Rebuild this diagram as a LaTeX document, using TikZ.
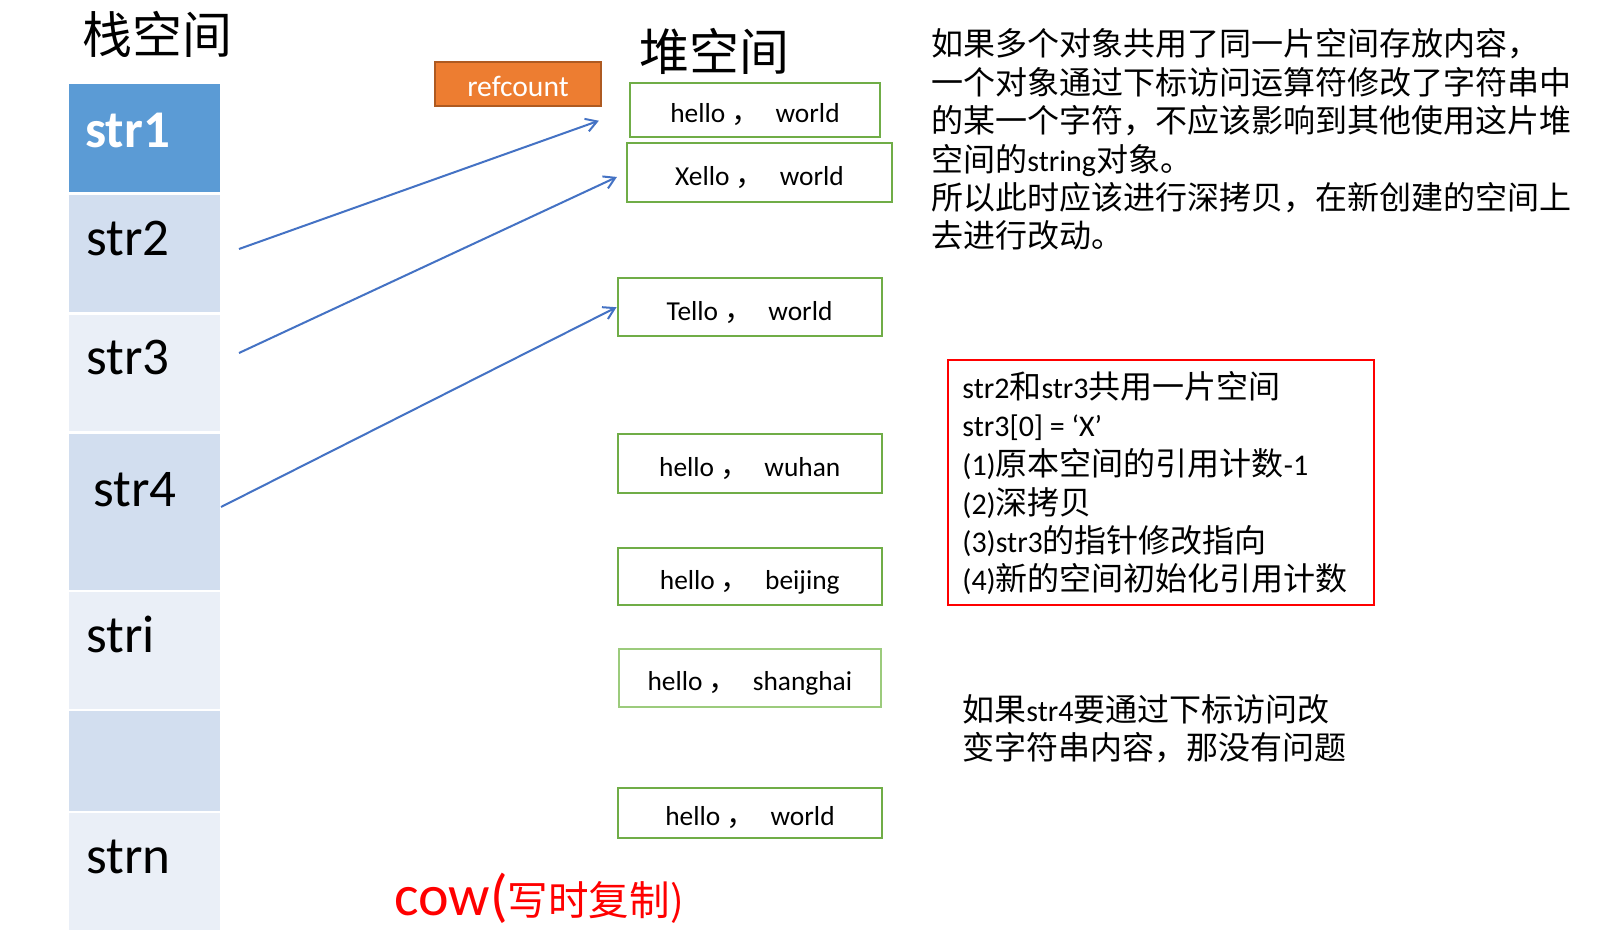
\documentclass[tikz,border=0pt]{standalone}
\usepackage{fontspec}
\setmainfont{Carlito}
\newfontfamily\cjk[Scale=1.067]{Noto Sans CJK SC}
\usetikzlibrary{arrows.meta,calc}
\definecolor{hdr}{HTML}{5B9BD5}
\definecolor{bandA}{HTML}{D2DEEF}
\definecolor{bandB}{HTML}{EAEFF7}
\definecolor{grn}{HTML}{70AD47}
\definecolor{grnlight}{HTML}{9CCB7C}
\definecolor{org}{HTML}{ED7D31}
\definecolor{orgdark}{HTML}{AE5A21}
\definecolor{arr}{HTML}{4472C4}
\definecolor{redc}{HTML}{FF0000}
\newcommand\hw[2]{#1\hspace{3pt}{\cjk ，}\hspace{7.5pt}#2}
\begin{document}
\begin{tikzpicture}[x=0.5pt,y=-0.5pt,
  heap/.style={draw=grn, line width=1pt, fill=white, inner sep=0pt,
    font=\fontsize{13.7pt}{16pt}\selectfont, text height=13.5pt, text depth=0.5pt},
  ptr/.style={draw=arr, line width=1pt, -{Straight Barb[length=5.5pt,width=6.6pt,line width=1pt]}},
  stk/.style={anchor=base west, inner sep=0pt, font=\fontsize{26.5pt}{30pt}\selectfont},
  txt/.style={anchor=base west, inner sep=0pt, font=\fontsize{15pt}{18pt}\selectfont},
  ttl/.style={anchor=west, inner sep=0pt, font=\cjk\fontsize{23.4pt}{28pt}\selectfont},
]
\useasboundingbox[fill=white] (0,0) rectangle (1611,940);

% stack column
\fill[hdr]   (69,84)  rectangle (220,192.5);
\fill[bandA] (69,195) rectangle (220,312.5);
\fill[bandB] (69,315) rectangle (220,431.5);
\fill[bandA] (69,434) rectangle (220,589.5);
\fill[bandB] (69,592) rectangle (220,708.5);
\fill[bandA] (69,711) rectangle (220,810.5);
\fill[bandB] (69,813) rectangle (220,930);

\node[stk, text=white, font=\fontsize{26.5pt}{30pt}\selectfont\bfseries] (l1) at (85,148) {str1};
\node[stk] (l2) at (86,256) {str2};
\node[stk] (l3) at (86,375) {str3};
\node[stk] (l4) at (93,507) {str4};
\node[stk] (l5) at (86,652) {stri};
\node[stk] (l6) at (86,873) {strn};

% titles
\node[ttl] (t1) at (82,34) {栈空间};
\node[ttl] (t2) at (639,51) {堆空间};

% refcount
\node[draw=orgdark, fill=org, line width=1pt, minimum width=83pt, minimum height=22pt,
  inner sep=0pt, text=white, font=\fontsize{14.8pt}{17pt}\selectfont,
  text height=13.2pt, text depth=0.5pt] (rc) at (518,84) {refcount};

% heap boxes
\node[heap, minimum width=125pt,   minimum height=27pt]    (h1) at (755,110)      {\hw{hello}{world}};
\node[heap, minimum width=132.5pt, minimum height=29.75pt] (h2) at (759.5,172.75) {\hw{Xello}{world}};
\node[heap, minimum width=132pt,   minimum height=28.75pt] (h3) at (749.5,307.25) {\hw{Tello}{world}};
\node[heap, minimum width=132.25pt,minimum height=29.35pt] (h4) at (749.75,463.35) {\hw{hello}{wuhan}};
\node[heap, minimum width=132.25pt,minimum height=28.65pt] (h5) at (749.75,576.35) {\hw{hello}{beijing}};
\node[heap, draw=grnlight, minimum width=130.85pt,minimum height=28.85pt] (h6) at (749.85,677.85) {\hw{hello}{shanghai}};
\node[heap, minimum width=132pt,   minimum height=25pt]    (h7) at (750,812.7)    {\hw{hello}{world}};

% pointers
\coordinate (a1) at (239,249);
\coordinate (a2) at (239,353);
\coordinate (a3) at (221,507);
\draw[ptr, shorten >=16pt] (a1) -- (h1.west);
\draw[ptr, shorten >=5pt] (a2) -- (h2.west);
\draw[ptr] (a3) -- (h3.west);

% paragraph
\node[txt] (p1) at (931,56)     {{\cjk 如果多个对象共用了同一片空间存放内容，}};
\node[txt] (p2) at (931,94.35)  {{\cjk 一个对象通过下标访问运算符修改了字符串中}};
\node[txt] (p3) at (931,132.7)  {{\cjk 的某一个字符，不应该影响到其他使用这片堆}};
\node[txt] (p4) at (931,171.05) {{\cjk 空间的}string{\cjk 对象。}};
\node[txt] (p5) at (931,209.4)  {{\cjk 所以此时应该进行深拷贝，在新创建的空间上}};
\node[txt] (p6) at (931,247.75) {{\cjk 去进行改动。}};

% red box
\node[draw=redc, line width=1pt, minimum width=213pt, minimum height=122.5pt, inner sep=0pt] (rb) at (1161,482.5) {};
\node[txt] (r1) at (962,399)   {str2{\cjk 和}str3{\cjk 共用一片空间}};
\node[txt] (r2) at (962,437)   {str3[0] = ‘X’};
\node[txt] (r3) at (962,475.5) {(1){\cjk 原本空间的引用计数}-1};
\node[txt] (r4) at (962,514.5) {(2){\cjk 深拷贝}};
\node[txt] (r5) at (962,552.5) {(3)str3{\cjk 的指针修改指向}};
\node[txt] (r6) at (962,590.5) {(4){\cjk 新的空间初始化引用计数}};

% bottom note
\node[txt] (b1) at (962,721) {{\cjk 如果}str4{\cjk 要通过下标访问改}};
\node[txt] (b2) at (962,759) {{\cjk 变字符串内容，那没有问题}};

% cow
\node[anchor=base west, inner sep=0pt, text=redc] (cow) at (394,915)
  {\fontsize{29pt}{32pt}\selectfont cow(\cjk\fontsize{19pt}{22pt}\selectfont 写时复制)};
\end{tikzpicture}
\end{document}
